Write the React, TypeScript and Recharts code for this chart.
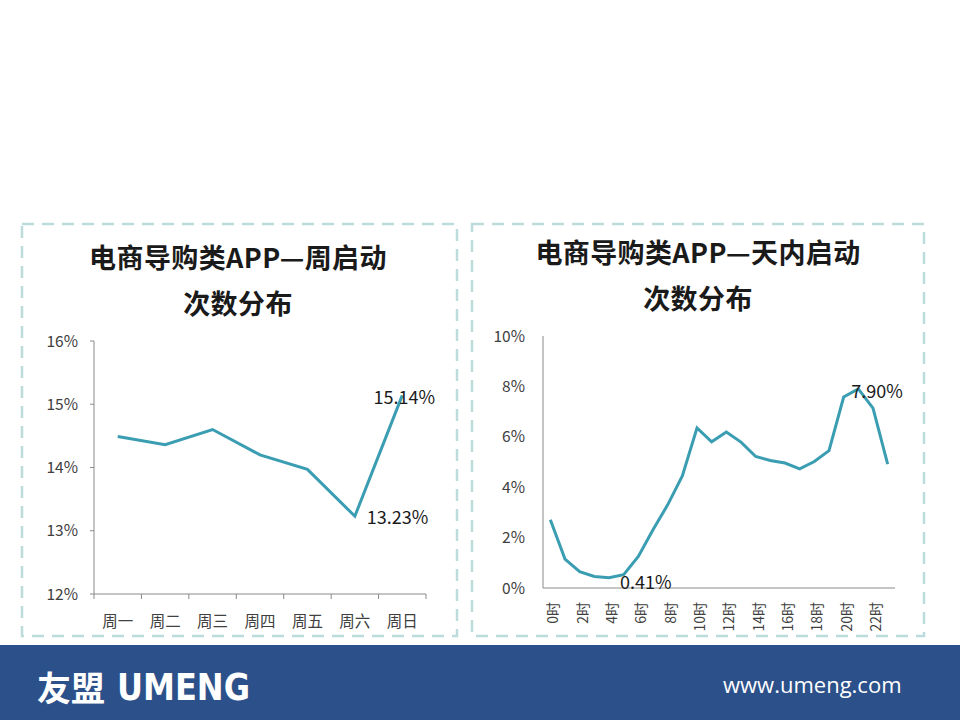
import React from 'react'
import { LineChart, Line, XAxis, YAxis, LabelList } from 'recharts'

const WEEK_DAYS = ['周一', '周二', '周三', '周四', '周五', '周六', '周日']
const WEEK_SHARE = [14.49, 14.36, 14.6, 14.2, 13.97, 13.23, 15.14]
const WEEK_TICKS = [12, 13, 14, 15, 16]

const HOURS = [
  '0时', '1时', '2时', '3时', '4时', '5时', '6时', '7时', '8时', '9时', '10时', '11时',
  '12时', '13时', '14时', '15时', '16时', '17时', '18时', '19时', '20时', '21时', '22时', '23时',
]
const HOUR_SHARE = [
  2.71, 1.15, 0.65, 0.46, 0.41, 0.53, 1.25, 2.31, 3.3, 4.45, 6.35, 5.8,
  6.19, 5.79, 5.22, 5.06, 4.96, 4.73, 5.02, 5.45, 7.58, 7.9, 7.14, 4.92,
]
const HOUR_TICKS = [0, 2, 4, 6, 8, 10]

const weekData = WEEK_DAYS.map((day, i) => ({ day, share: WEEK_SHARE[i] }))
const hourData = HOURS.map((hour, i) => ({ hour, share: HOUR_SHARE[i] }))

const LINE_COLOR = '#3a9db2'
const AXIS_COLOR = '#8a8a8a'
const TEXT_COLOR = '#404040'
const FONT = '"Noto Sans CJK SC", "Noto Sans", sans-serif'

// left chart geometry
const WEEK_W = 440
const WEEK_H = 320
const WEEK_MARGIN = { top: 21, right: 34, bottom: 16, left: 20 }
const WEEK_YAXIS_W = 54
const WEEK_BAND = (WEEK_W - WEEK_MARGIN.left - WEEK_MARGIN.right - WEEK_YAXIS_W) / WEEK_DAYS.length

// right chart geometry
const HOUR_W = 450
const HOUR_H = 320
const HOUR_MARGIN = { top: 16, right: 35, bottom: 12, left: 15 }
const HOUR_YAXIS_W = 48
const HOUR_BAND = (HOUR_W - HOUR_MARGIN.left - HOUR_MARGIN.right - HOUR_YAXIS_W) / HOURS.length

type LabelPos = { dx: number; dy: number; anchor: 'start' | 'middle' | 'end' }

// only the highest and lowest point get a value label
const peakLabel = (values: number[], maxPos: LabelPos, minPos: LabelPos) => (props: any) => {
  const { value, index } = props
  const x = props.x ?? props.viewBox?.x
  const y = props.y ?? props.viewBox?.y
  const max = Math.max(...values)
  const min = Math.min(...values)
  if (values[index] !== max && values[index] !== min) return null
  const pos = values[index] === max ? maxPos : minPos
  return (
    <text
      key={`peak-${index}`}
      x={x + pos.dx} y={y + pos.dy}
      textAnchor={pos.anchor} dominantBaseline="central"
      fontSize={18} fill="#1a1a1a" fontFamily={FONT}
    >
      {Number(value).toFixed(2)}%
    </text>
  )
}

// Excel style: tick marks sit between categories, label in the middle
const WeekTick = (props: any) => {
  const { x, y, payload, index } = props
  return (
    <g>
      <line x1={x - WEEK_BAND / 2} x2={x - WEEK_BAND / 2} y1={y} y2={y + 5} stroke={AXIS_COLOR} />
      {index === WEEK_DAYS.length - 1 && (
        <line x1={x + WEEK_BAND / 2} x2={x + WEEK_BAND / 2} y1={y} y2={y + 5} stroke={AXIS_COLOR} />
      )}
      <text
        x={x} y={y + 26} textAnchor="middle" dominantBaseline="central"
        fill={TEXT_COLOR} fontSize={15.5} fontFamily={FONT}
      >
        {payload.value}
      </text>
    </g>
  )
}

const HourTick = (props: any) => {
  const { x, y, payload } = props
  const px = x + 2
  const py = y + 14
  return (
    <text
      x={px} y={py} transform={`rotate(-90 ${px} ${py})`}
      textAnchor="end" dominantBaseline="central"
      fill={TEXT_COLOR} fontSize={14} fontFamily={FONT}
    >
      {payload.value}
    </text>
  )
}

const titleStyle: React.CSSProperties = {
  position: 'absolute',
  margin: 0,
  fontFamily: FONT,
  fontWeight: 700,
  fontSize: 27,
  letterSpacing: 0.4,
  color: '#1a1a1a',
  textAlign: 'center',
  lineHeight: '46px',
  whiteSpace: 'nowrap',
}

const WeekChart = () => (
  <LineChart width={WEEK_W} height={WEEK_H} data={weekData} margin={WEEK_MARGIN}>
    <XAxis
      dataKey="day" tick={<WeekTick />} tickLine={false} tickSize={0} tickMargin={0}
      height={30} interval={0}
      padding={{ left: WEEK_BAND / 2, right: WEEK_BAND / 2 }}
      axisLine={{ stroke: AXIS_COLOR }}
    />
    <YAxis
      width={WEEK_YAXIS_W} domain={[12, 16]} ticks={WEEK_TICKS} tickFormatter={v => `${v}%`}
      tickSize={4} tickMargin={12}
      tickLine={{ stroke: AXIS_COLOR }} axisLine={{ stroke: AXIS_COLOR }}
      tick={{ fill: TEXT_COLOR, fontSize: 15.5, fontFamily: FONT }}
    />
    <Line
      type="linear" dataKey="share" stroke={LINE_COLOR} strokeWidth={3}
      dot={false} activeDot={false} isAnimationActive={false}
    >
      <LabelList
        dataKey="share"
        content={peakLabel(WEEK_SHARE, { dx: 2, dy: 1, anchor: 'middle' }, { dx: 12, dy: 0, anchor: 'start' })}
      />
    </Line>
  </LineChart>
)

const HourChart = () => (
  <LineChart width={HOUR_W} height={HOUR_H} data={hourData} margin={HOUR_MARGIN}>
    <XAxis
      dataKey="hour" tick={<HourTick />} tickLine={false} tickSize={0} tickMargin={0}
      height={40} interval={1}
      padding={{ left: HOUR_BAND / 2, right: HOUR_BAND / 2 }}
      axisLine={{ stroke: AXIS_COLOR }}
    />
    <YAxis
      width={HOUR_YAXIS_W} domain={[0, 10]} ticks={HOUR_TICKS} tickFormatter={v => `${v}%`}
      tickLine={false} tickSize={0} tickMargin={18}
      axisLine={{ stroke: AXIS_COLOR }}
      tick={{ fill: TEXT_COLOR, fontSize: 15.5, fontFamily: FONT }}
    />
    <Line
      type="linear" dataKey="share" stroke={LINE_COLOR} strokeWidth={3}
      dot={false} activeDot={false} isAnimationActive={false}
    >
      <LabelList
        dataKey="share"
        content={peakLabel(HOUR_SHARE, { dx: -7, dy: 1, anchor: 'start' }, { dx: 11, dy: 3, anchor: 'start' })}
      />
    </Line>
  </LineChart>
)

export default function App() {
  return (
    <div style={{ position: 'absolute', left: 0, top: 0, width: 960, height: 720, background: '#fff', overflow: 'hidden' }}>
      <svg width={960} height={720} style={{ position: 'absolute', left: 0, top: 0 }}>
        <rect x={22} y={224} width={435} height={412} fill="none" stroke="#bcdcdc" strokeWidth={2.5} strokeDasharray="12 8" />
        <rect x={472} y={224} width={452} height={412} fill="none" stroke="#bcdcdc" strokeWidth={2.5} strokeDasharray="12 8" />
        <rect x={0} y={645} width={960} height={75} fill="#2c5089" />
        <text x={37} y={701} fill="#fff" fontSize={34} fontWeight={700} fontFamily={FONT}>友盟</text>
        <text
          x={117} y={700} fill="#fff" fontSize={38} fontWeight={700}
          fontFamily='"DejaVu Sans", sans-serif' textLength={133} lengthAdjust="spacingAndGlyphs"
        >
          UMENG
        </text>
        <text x={723} y={693} fill="#fff" fontSize={22} fontFamily='"Open Sans", "Noto Sans", sans-serif'>
          www.umeng.com
        </text>
      </svg>

      <div style={{ ...titleStyle, left: 38, width: 400, top: 234 }}>
        电商导购类APP—周启动<br />次数分布
      </div>
      <div style={{ ...titleStyle, left: 498, width: 400, top: 229 }}>
        电商导购类APP—天内启动<br />次数分布
      </div>

      <div style={{ position: 'absolute', left: 20, top: 320 }}>
        <WeekChart />
      </div>
      <div style={{ position: 'absolute', left: 480, top: 320 }}>
        <HourChart />
      </div>
    </div>
  )
}
